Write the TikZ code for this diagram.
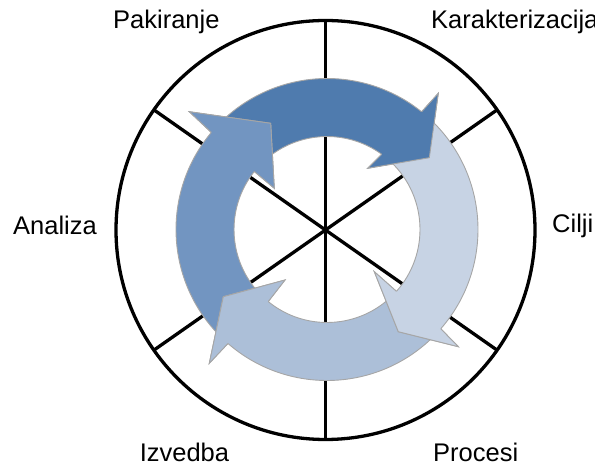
\documentclass[tikz,border=0pt]{standalone}
\usepackage{fontspec}
\setmainfont{Liberation Sans}
\definecolor{cTop}{RGB}{79,123,174}
\definecolor{cLeft}{RGB}{114,149,193}
\definecolor{cBot}{RGB}{172,191,216}
\definecolor{cRight}{RGB}{199,211,228}
\definecolor{arrline}{RGB}{166,166,166}
\begin{document}
\begin{tikzpicture}[x=1pt,y=1pt,
  lbl/.style={font=\fontsize{25.5}{30}\selectfont, inner sep=0pt, anchor=base west},
  wheel/.style={line width=3.3pt, black},
  arr/.style={draw=arrline, line width=0.9pt, line join=miter}]
\useasboundingbox (0,0) rectangle (595,466);
\clip (0,0) rectangle (595,466);
% outer wheel
\coordinate (O) at (325.5,236);
\draw[wheel] (O) circle[radius=209.5];
\foreach \a in {90,35,-35,145,215,270} \draw[wheel] (O) -- ([shift={(\a:209.5)}]O);
% ring centre
\coordinate (R) at (327,236.5);
% head points
\coordinate (tOn) at ([shift={(51.2:151)}]R);
\coordinate (tOb) at (438.3,372.7);
\coordinate (tTip) at (429.3,308.3);
\coordinate (tIb) at (367.7,297.7);
\coordinate (tIn) at ([shift={(54:93)}]R);
\coordinate (lOn) at ([shift={(140:151)}]R);
\coordinate (lOb) at (189.3,354.3);
\coordinate (lTip) at (270.7,342.7);
\coordinate (lIb) at (274.3,277.7);
\coordinate (lIn) at ([shift={(141.4:93)}]R);
\coordinate (bOn) at ([shift={(229:151)}]R);
\coordinate (bOb) at (209.3,102.7);
\coordinate (bTip) at (223.3,169.3);
\coordinate (bIb) at (285,186);
\coordinate (bIn) at ([shift={(230.8:93)}]R);
\coordinate (rOn) at ([shift={(-41.1:151)}]R);
\coordinate (rOb) at (458.3,119.3);
\coordinate (rTip) at (398.3,134.3);
\coordinate (rIb) at (374.3,194.3);
\coordinate (rIn) at ([shift={(-41.7:93)}]R);
% arrows
\draw[arr, fill=cTop] ([shift={(135:151)}]R) arc[start angle=135, end angle=51.2, radius=151]
  -- (tOb) -- (tTip) -- (tIb) -- (tIn) arc[start angle=54, end angle=135, radius=93] -- cycle;
\draw[arr, fill=cLeft] ([shift={(224:151)}]R) arc[start angle=224, end angle=140, radius=151]
  -- (lOb) -- (lTip) -- (lIb) -- (lIn) arc[start angle=141.4, end angle=224, radius=93] -- cycle;
\draw[arr, fill=cBot] ([shift={(315:151)}]R) arc[start angle=315, end angle=229, radius=151]
  -- (bOb) -- (bTip) -- (bIb) -- (bIn) arc[start angle=230.8, end angle=315, radius=93] -- cycle;
\draw[arr, fill=cRight] ([shift={(46:151)}]R) arc[start angle=46, end angle=-41.1, radius=151]
  -- (rOb) -- (rTip) -- (rIb) -- (rIn) arc[start angle=-41.7, end angle=46, radius=93] -- cycle;
% heads on top
\foreach \p/\c in {t/cTop,l/cLeft,b/cBot,r/cRight}{
  \fill[\c] (\p On) -- (\p Ob) -- (\p Tip) -- (\p Ib) -- (\p In) -- cycle;
  \draw[arr] (\p On) -- (\p Ob) -- (\p Tip) -- (\p Ib) -- (\p In);
}
% labels
\node[lbl] (pak) at (113,437.7) {Pakiranje};
\node[lbl] (kar) at (431,437.7) {Karakterizacija};
\node[lbl] (ana) at (13,231) {Analiza};
\node[lbl] (cil) at (552,233) {Cilji};
\node[lbl] (izv) at (139.6,4.3) {Izvedba};
\node[lbl] (pro) at (433,4.3) {Procesi};
\end{tikzpicture}
\end{document}
